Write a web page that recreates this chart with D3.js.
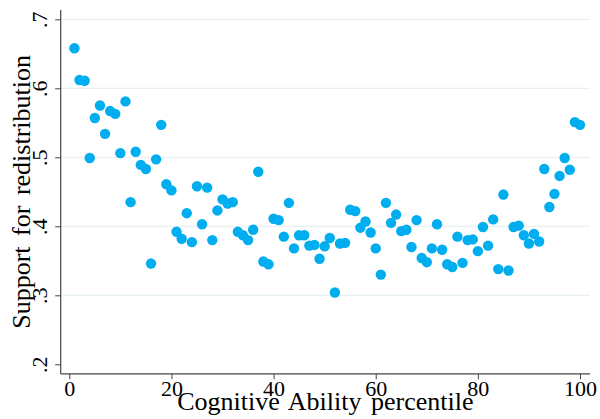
<!DOCTYPE html>
<html>
<head>
<meta charset="utf-8">
<script src="https://cdn.jsdelivr.net/npm/d3@7"></script>
<style>
  html, body { margin: 0; padding: 0; background: #fff; }
  svg { display: block; }
  text { font-family: "Liberation Serif", "Times New Roman", serif; fill: #000; }
</style>
</head>
<body>
<svg id="chart" width="600" height="419"></svg>
<script>
// Data: cognitive ability percentile vs. support for redistribution
const percentiles = d3.range(1, 101);
const support = [
  0.658, 0.612, 0.611, 0.499, 0.557, 0.575, 0.534, 0.567, 0.563, 0.506,
  0.581, 0.435, 0.508, 0.489, 0.483, 0.346, 0.497, 0.547, 0.461, 0.452,
  0.392, 0.382, 0.419, 0.377, 0.458, 0.403, 0.456, 0.380, 0.423, 0.439,
  0.433, 0.435, 0.392, 0.387, 0.380, 0.395, 0.479, 0.349, 0.345, 0.411,
  0.409, 0.385, 0.434, 0.368, 0.387, 0.387, 0.372, 0.373, 0.353, 0.371,
  0.383, 0.304, 0.375, 0.376, 0.424, 0.422, 0.398, 0.407, 0.391, 0.368,
  0.330, 0.434, 0.405, 0.417, 0.393, 0.395, 0.370, 0.409, 0.354, 0.348,
  0.368, 0.403, 0.366, 0.345, 0.341, 0.385, 0.347, 0.380, 0.381, 0.364,
  0.399, 0.372, 0.410, 0.338, 0.446, 0.336, 0.399, 0.401, 0.387, 0.375,
  0.389, 0.378, 0.483, 0.428, 0.447, 0.473, 0.499, 0.482, 0.551, 0.547
];
const xTicks = [0, 20, 40, 60, 80, 100];
const yTicks = [0.2, 0.3, 0.4, 0.5, 0.6, 0.7];
const yGridTicks = [0.3, 0.4, 0.5, 0.6, 0.7];
const yTickLabels = [".2", ".3", ".4", ".5", ".6", ".7"];
const xTitle = "Cognitive Ability percentile";
const yTitle = "Support for redistribution";

const svg = d3.select("#chart");

const plot = { left: 60.7, right: 590, top: 10, bottom: 373.8 };

const x = d3.scaleLinear().domain([0, 100]).range([69.3, 580]);
const y = d3.scaleLinear().domain([0.2, 0.7]).range([364.3, 19.3]);

// gridlines
svg.append("g")
  .selectAll("line")
  .data(yGridTicks)
  .join("line")
  .attr("x1", plot.left)
  .attr("x2", plot.right)
  .attr("y1", d => y(d))
  .attr("y2", d => y(d))
  .attr("stroke", "#e8f1f2")
  .attr("stroke-width", 1.2);

// points
svg.append("g")
  .selectAll("circle")
  .data(percentiles.map((p, i) => ({ p, v: support[i] })))
  .join("circle")
  .attr("cx", d => x(d.p))
  .attr("cy", d => y(d.v))
  .attr("r", 5.2)
  .attr("fill", "#00aeef");

// y axis
const yAxis = d3.axisLeft(y)
  .tickValues(yTicks)
  .tickSize(5.5)
  .tickFormat((d, i) => yTickLabels[i]);
const gy = svg.append("g")
  .attr("transform", `translate(${plot.left},0)`)
  .call(yAxis);
gy.select(".domain").remove();
gy.selectAll(".tick line").attr("stroke", "#444");
gy.selectAll(".tick text")
  .attr("x", null).attr("dy", null)
  .attr("transform", "translate(-13.5,0) rotate(-90)")
  .attr("text-anchor", "middle")
  .attr("y", 0)
  .attr("font-size", 22)
  .style("font-family", "'Liberation Serif', serif")
  .attr("fill", "#000");
svg.append("line")
  .attr("x1", plot.left).attr("x2", plot.left)
  .attr("y1", plot.top).attr("y2", plot.bottom)
  .attr("stroke", "#444").attr("stroke-width", 1.2);

// x axis
const xAxis = d3.axisBottom(x)
  .tickValues(xTicks)
  .tickSize(5.5)
  .tickFormat(d3.format("d"));
const gx = svg.append("g")
  .attr("transform", `translate(0,${plot.bottom})`)
  .call(xAxis);
gx.select(".domain").remove();
gx.selectAll(".tick line").attr("stroke", "#444");
gx.selectAll(".tick text")
  .attr("y", 22).attr("dy", null)
  .attr("font-size", 22)
  .style("font-family", "'Liberation Serif', serif")
  .attr("fill", "#000");
svg.append("line")
  .attr("x1", plot.left).attr("x2", plot.right)
  .attr("y1", plot.bottom).attr("y2", plot.bottom)
  .attr("stroke", "#444").attr("stroke-width", 1.2);

// titles
svg.append("text")
  .attr("x", (plot.left + plot.right) / 2)
  .attr("y", 410)
  .attr("text-anchor", "middle")
  .attr("font-size", 26)
  .attr("word-spacing", 3)
  .text(xTitle);

svg.append("text")
  .attr("transform", `translate(30,${(plot.top + plot.bottom) / 2}) rotate(-90)`)
  .attr("text-anchor", "middle")
  .attr("font-size", 26)
  .attr("word-spacing", 4)
  .text(yTitle);
</script>
</body>
</html>
